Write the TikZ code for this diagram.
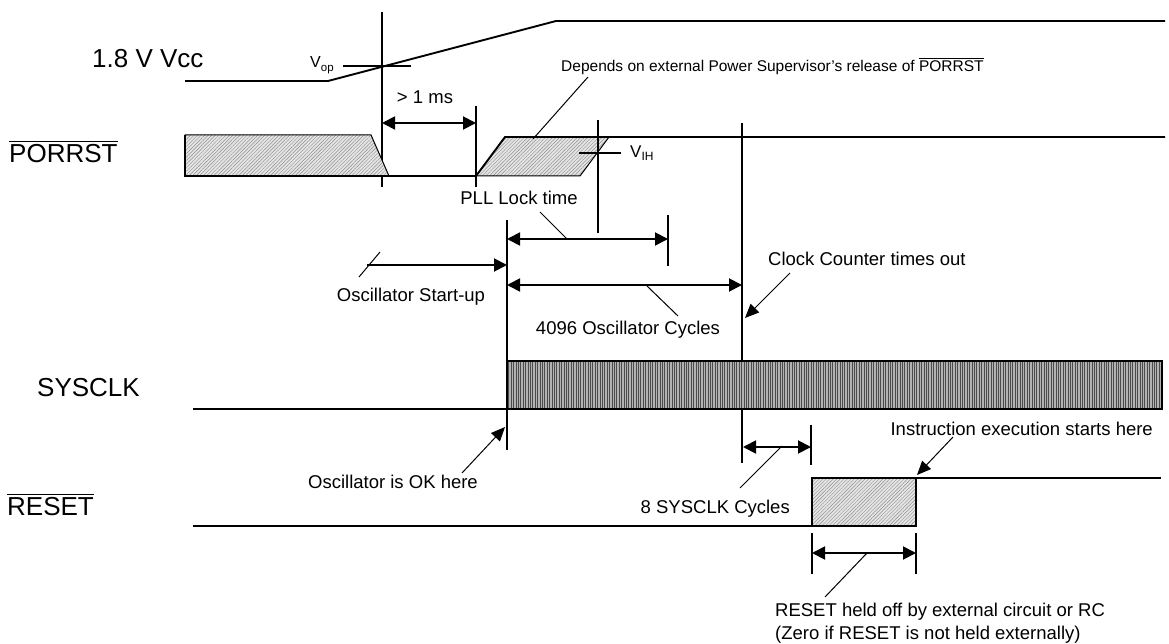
\documentclass[tikz,border=0pt]{standalone}
\usepackage{fontspec}
\setmainfont{Liberation Sans}
\usetikzlibrary{arrows.meta,patterns.meta}
\newcommand\ovl[2][1.6pt]{\vbox{\hrule height #1\kern 2.2pt\hbox{#2}}}
\begin{document}
\begin{tikzpicture}[x=1pt,y=-1pt,
  sig/.style={line width=1.9pt},
  thinl/.style={line width=1pt},
  dimarr/.style={line width=1.9pt,{Triangle[length=13pt,width=13pt]}-{Triangle[length=13pt,width=13pt]}},
  onearr/.style={line width=1.9pt,-{Triangle[length=13pt,width=13pt]}},
  ptr/.style={line width=1pt,-{Triangle[length=14pt,width=12pt]}},
  big/.style={font=\fontsize{26}{30}\selectfont,inner sep=0pt},
  lbl/.style={font=\fontsize{18.5}{22}\selectfont,inner sep=0pt},
  sml/.style={font=\fontsize{15.5}{18}\selectfont,inner sep=0pt},
  hatchbg/.style={fill=black!10},
  hatch/.style={pattern={Lines[angle=45,distance=2.5pt,line width=0.45pt]},pattern color=black!45},
  clkbg/.style={fill=black!30},
  clk/.style={pattern={Lines[angle=90,distance=2.4pt,line width=0.8pt]},pattern color=black!70},
]
\useasboundingbox (0,0) rectangle (1169,644);

% ---------- labels on the left
\node[big,anchor=base west] (lvcc) at (92,67.5) {1.8 V Vcc};
\node[big,anchor=base west] (lpor) at (9,162.5) {\ovl{PORRST}};
\node[big,anchor=base west] (lclk) at (37,396.5) {SYSCLK};
\node[big,anchor=base west] (lrst) at (7,515.5) {\ovl{RESET}};

% ---------- Vcc
\coordinate (v0) at (185,81);
\coordinate (v1) at (328,81);
\coordinate (v2) at (556,21);
\coordinate (v3) at (1165,21);
\draw[sig] (v0) -- (v1) -- (v2) -- (v3);
\coordinate (vopT) at (382,12);
\coordinate (vopB) at (382,187);
\draw[sig] (vopT) -- (vopB);
\coordinate (vopL) at (343,66);
\coordinate (vopR) at (411,66);
\draw[sig] (vopL) -- (vopR);
\node[anchor=base west,inner sep=0pt,font=\fontsize{16}{18}\selectfont] (vop) at (310,68)
  {V\raisebox{-3.5pt}{\fontsize{11.5}{13}\selectfont op}};

% > 1 ms
\coordinate (msL) at (382,123);
\coordinate (msR) at (476,123);
\draw[dimarr] (msL) -- (msR);
\coordinate (m1T) at (476,106);
\coordinate (m1B) at (476,187);
\draw[sig] (m1T) -- (m1B);
\node[lbl,anchor=base] (ms) at (425,103.5) {> 1 ms};

% ---------- PORRST
\coordinate (p0) at (185,135);
\coordinate (p1) at (371,135);
\coordinate (p2) at (389,176);
\coordinate (p3) at (185,176);
\fill[hatchbg] (p0) -- (p1) -- (p2) -- (p3) -- cycle;
\fill[hatch] (p0) -- (p1) -- (p2) -- (p3) -- cycle;
\draw[thinl] (p0) -- (p1) -- (p2);
\coordinate (q0) at (476,176);
\coordinate (q1) at (505,137);
\coordinate (q2) at (609,137);
\coordinate (q3) at (580,176);
\coordinate (qend) at (1165,137);
\fill[hatchbg] (q0) -- (q1) -- (q2) -- (q3) -- cycle;
\fill[hatch] (q0) -- (q1) -- (q2) -- (q3) -- cycle;
\draw[thinl] (q2) -- (q3) -- (q0);
\draw[sig] (p0) -- (p3) -- (p2) -- (q0) -- (q1) -- (qend);

% V_IH
\coordinate (vihT) at (598,120);
\coordinate (vihB) at (598,233);
\draw[sig] (vihT) -- (vihB);
\coordinate (vihL) at (579,153);
\coordinate (vihR) at (621,153);
\draw[sig] (vihL) -- (vihR);
\node[anchor=base west,inner sep=0pt,font=\fontsize{17}{19}\selectfont] (vih) at (630,157.5)
  {V\raisebox{-3.5pt}{\fontsize{12}{14}\selectfont IH}};

% Depends text
\node[sml,anchor=base west] (dep) at (561,72)
  {Depends on external Power Supervisor's release of \ovl[1pt]{PORRST}};
\coordinate (depA) at (588,77);
\coordinate (depB) at (533,139);
\draw[thinl] (depA) -- (depB);

% ---------- verticals
\coordinate (ccT) at (742,123);
\coordinate (ccB) at (742,463);
\draw[sig] (ccT) -- (ccB);
\coordinate (scT) at (507,220);
\coordinate (scB) at (507,450);
\draw[sig] (scT) -- (scB);

% PLL lock time
\coordinate (pllL) at (507,239);
\coordinate (pllR) at (668,239);
\draw[dimarr] (pllL) -- (pllR);
\coordinate (pllT) at (668,215);
\coordinate (pllB) at (668,266);
\draw[sig] (pllT) -- (pllB);
\node[lbl,anchor=base] (pll) at (519,204.5) {PLL Lock time};
\coordinate (pllA) at (540,212);
\coordinate (pllC) at (567,239);
\draw[thinl] (pllA) -- (pllC);

% Oscillator start-up
\coordinate (osL) at (367,265);
\coordinate (osR) at (507,265);
\draw[onearr] (osL) -- (osR);
\coordinate (osT1) at (359,277);
\coordinate (osT2) at (380,252);
\draw[thinl] (osT1) -- (osT2);
\node[lbl,anchor=base] (osl) at (411,301.5) {Oscillator Start-up};

% 4096 cycles
\coordinate (c4L) at (507,285);
\coordinate (c4R) at (742,285);
\draw[dimarr] (c4L) -- (c4R);
\coordinate (c4A) at (647,286);
\coordinate (c4B) at (678,316);
\draw[thinl] (c4A) -- (c4B);
\node[lbl,anchor=base] (c4) at (628,334.5) {4096 Oscillator Cycles};

% Clock counter
\node[lbl,anchor=base west] (cc) at (768,265.5) {Clock Counter times out};
\coordinate (ccA) at (790,273);
\coordinate (ccP) at (745,318);
\draw[ptr] (ccA) -- (ccP);

% ---------- SYSCLK
\coordinate (s0) at (193,409);
\coordinate (s1) at (507,361);
\coordinate (s2) at (1162,409);
\fill[clkbg] (s1) rectangle (s2);
\fill[clk] (s1) rectangle (s2);
\draw[sig] (s1) rectangle (s2);
\draw[sig] (s0) -- (s1 |- s2);

% Oscillator OK
\node[lbl,anchor=base east] (ook) at (478,488.5) {Oscillator is OK here};
\coordinate (ookA) at (462,473);
\coordinate (ookP) at (505,427);
\draw[ptr] (ookA) -- (ookP);

% 8 SYSCLK
\coordinate (e8L) at (743,447);
\coordinate (e8R) at (811,447);
\draw[dimarr] (e8L) -- (e8R);
\coordinate (e8T) at (811,425);
\coordinate (e8B) at (811,465);
\draw[sig] (e8T) -- (e8B);
\coordinate (e8A) at (782,446);
\coordinate (e8C) at (740,488);
\draw[thinl] (e8A) -- (e8C);
\node[lbl,anchor=base east] (e8) at (790,513.5) {8 SYSCLK Cycles};

% ---------- RESET
\coordinate (r0) at (193,526);
\coordinate (r1) at (812,478);
\coordinate (r2) at (916,526);
\coordinate (r3) at (1161,478);
\fill[hatchbg] (r1) rectangle (r2);
\fill[hatch] (r1) rectangle (r2);
\draw[sig] (r0) -- (r1 |- r2) -- (r1) -- (r2 |- r1) -- (r3);
\draw[sig] (r1 |- r2) -- (r2) -- (r2 |- r1);

% Instruction
\node[lbl,anchor=base east] (ins) at (1153,435.5) {Instruction execution starts here};
\coordinate (insA) at (953,437);
\coordinate (insP) at (917,475);
\draw[ptr] (insA) -- (insP);

% RESET held off
\coordinate (hoL) at (812,553);
\coordinate (hoR) at (916,553);
\draw[dimarr] (hoL) -- (hoR);
\coordinate (hoLT) at (812,533);
\coordinate (hoLB) at (812,574);
\coordinate (hoRT) at (916,533);
\coordinate (hoRB) at (916,574);
\draw[sig] (hoLT) -- (hoLB);
\draw[sig] (hoRT) -- (hoRB);
\coordinate (hoA) at (867,553);
\coordinate (hoB) at (825,597);
\draw[thinl] (hoA) -- (hoB);
\node[lbl,anchor=base west] (ho1) at (775,616.5) {RESET held off by external circuit or RC};
\node[lbl,anchor=base west] (ho2) at (775,639.5) {(Zero if RESET is not held externally)};
\end{tikzpicture}
\end{document}
